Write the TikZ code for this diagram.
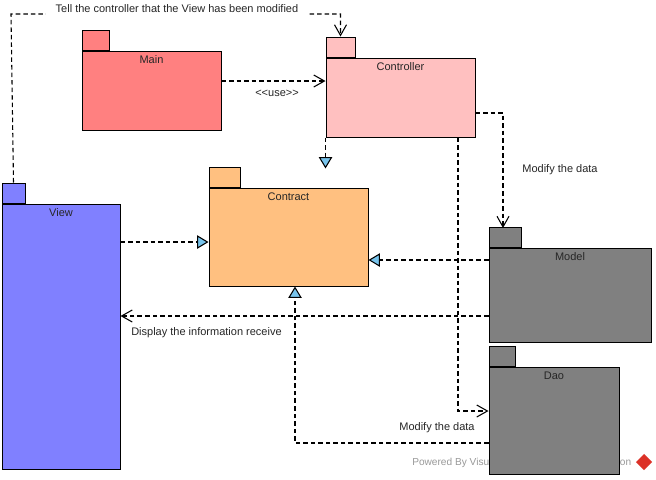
\documentclass[tikz,border=0pt]{standalone}
\usepackage{fontspec}
\setmainfont{Liberation Sans}
\usetikzlibrary{arrows.meta, positioning, fit}

\definecolor{mainRed}{RGB}{255,128,128}
\definecolor{ctrlPink}{RGB}{255,192,192}
\definecolor{contractOrange}{RGB}{255,192,128}
\definecolor{viewBlue}{RGB}{128,128,255}
\definecolor{dataGray}{RGB}{128,128,128}
\definecolor{realBlue}{RGB}{120,196,236}
\definecolor{logoRed}{RGB}{220,50,40}

\begin{document}
\begin{tikzpicture}[x=0.75pt, y=-0.75pt,
    pkg/.style={draw=black, line width=0.75pt, inner sep=0pt},
    pkgtab/.style={draw=black, line width=0.75pt, inner sep=0pt, minimum height=15pt, anchor=south west},
    pkgname/.style={anchor=north, inner sep=0pt, yshift=-3.5pt, font=\fontsize{8.25}{9.9}\selectfont, text=black!85},
    note/.style={inner sep=0pt, font=\fontsize{8.25}{9.9}\selectfont, text=black!85},
    dep/.style={draw=black, line width=0.8pt, dash pattern=on 3.4pt off 2.25pt,
        -{Straight Barb[length=8pt, width=9pt]}},
    real/.style={draw=black, line width=0.8pt, dash pattern=on 3.4pt off 2.25pt,
        -{Triangle[length=8.5pt, width=10pt, fill=realBlue]}}]
    \path[fill=white] (0,0) rectangle (656,479);

    % Watermark (lies under the Dao package)
    \node[note, anchor=west, text=black!40, font=\fontsize{7.6}{9}\selectfont] (powered) at (412,463)
        {Powered By Visual Paradigm Community Edition};
    \node[fill=logoRed, minimum size=8.5pt, inner sep=0pt, rotate=45] (vplogo) at (644,462) {};

    % Packages: body, tab and name
    \foreach \name/\col/\x/\y/\xx/\yy/\tabw/\txt in {
        main/mainRed/82/51/221/130/20.25pt/Main,
        ctrl/ctrlPink/326/58/475/137/21.75pt/Controller,
        contract/contractOrange/209/188/368/286/23.25pt/Contract,
        view/viewBlue/2/204/120/469/17.25pt/View,
        model/dataGray/489/248/651/342/24pt/Model,
        dao/dataGray/489/367/619/474/19.5pt/Dao} {
        \node[pkg, fill=\col, fit={(\x,\y) (\xx,\yy)}] (\name) {};
        \node[pkgtab, fill=\col, minimum width=\tabw] (\name tab) at (\name.north west) {};
        \node[pkgname] (\name label) at (\name.north) {\txt};
    }

    % Dependencies
    \draw[dep] (viewtab.north) -- (11,14) -| (ctrltab.north);
    \node[note, fill=white, inner xsep=7.5pt, inner ysep=3pt] (tellnote) at (177,9)
        {Tell the controller that the View has been modified};

    \draw[dep] (main.east |- 0,81) -- (ctrl.west |- 0,81);
    \node[note] (usenote) at (277,93) {<\kern0pt<use>\kern0pt>};

    \draw[dep] (ctrl.east |- 0,113) -| (503,228);
    \node[note] (modelnote) at (560,170) {Modify the data};

    \draw[dep] (ctrl.south -| 458,0) -- (458,411) -- (dao.west |- 0,411);
    \node[note] (daonote) at (437,428) {Modify the data};

    \draw[dep] (model.west |- 0,316) -- (view.east |- 0,316);
    \node[note, anchor=west] (displaynote) at (131,333) {Display the information receive};

    % Realizations of the contract
    \draw[real] (ctrl.south west) -- ++(0,31);
    \draw[real] (view.east |- 0,242) -- (contract.west |- 0,242);
    \draw[real] (model.west |- 0,260) -- (contract.east |- 0,260);
    \draw[real] (dao.west |- 0,443) -| (contract.south -| 295,0);
\end{tikzpicture}
\end{document}
